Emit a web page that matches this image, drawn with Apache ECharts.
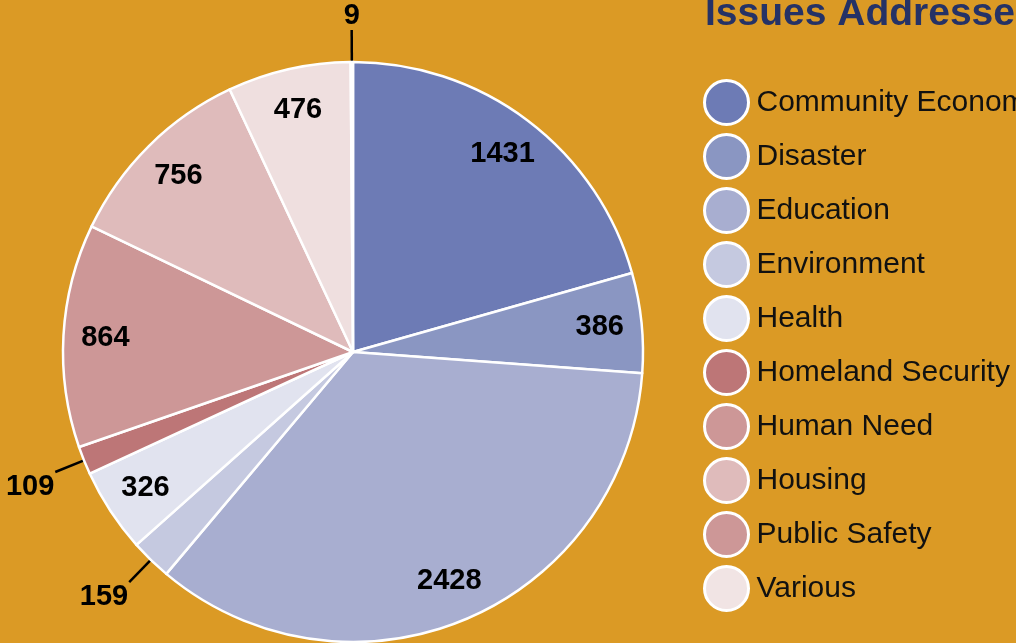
<!DOCTYPE html>
<html>
<head>
<meta charset="utf-8">
<script src="https://cdn.jsdelivr.net/npm/echarts@6/dist/echarts.min.js"></script>
<style>
  html, body { margin: 0; padding: 0; background: #db9a25; }
  #chart { width: 1016px; height: 643px; }
</style>
</head>
<body>
<div id="chart"></div>
<script>
const names = [
  "Community Economic Development",
  "Disaster",
  "Education",
  "Environment",
  "Health",
  "Homeland Security",
  "Human Need",
  "Housing",
  "Public Safety",
  "Various",
];
const values = [1431, 386, 2428, 159, 326, 109, 864, 756, 476, 9];
const sliceColors = [
  "#6d7bb5", "#8a96c2", "#a8aed0", "#c5c9e0", "#e1e3ef",
  "#bd7677", "#cd9797", "#dfbbbb", "#efdfdf", "#f7f1f1",
];
const legendColors = [
  "#6d7bb5", "#8a96c2", "#a8aed0", "#c5c9e0", "#e1e3ef",
  "#bd7677", "#cd9797", "#dfbbbb", "#cd9797", "#f1e4e4",
];

const font = "Liberation Sans";
const small = 200; // values under this get an outside label
const cx = 353, cy = 352;

const chart = echarts.init(document.getElementById("chart"));

const sliceData = names.map((n, i) => ({
  name: n,
  value: values[i],
  itemStyle: { color: sliceColors[i] },
  label: { show: values[i] < small },
  labelLine: { show: values[i] < small },
}));

const labelData = names.map((n, i) => ({
  name: n,
  value: values[i],
  label: { show: values[i] >= small },
}));

chart.setOption({
  backgroundColor: "#db9a25",
  animation: false,
  title: {
    text: "Issues Addressed",
    left: 700,
    top: -10,
    textStyle: {
      fontFamily: font,
      fontWeight: "bold",
      fontSize: 39,
      color: "#253266",
    },
  },
  legend: {
    orient: "vertical",
    left: 698,
    top: 74,
    icon: "circle",
    itemWidth: 44,
    itemHeight: 44,
    itemGap: 7,
    selectedMode: false,
    itemStyle: { borderColor: "#ffffff", borderWidth: 3 },
    textStyle: { fontFamily: font, fontSize: 30, color: "#111111", padding: [0, 0, 0, 3] },
    data: names.map((n, i) => ({ name: n, itemStyle: { color: legendColors[i] } })),
  },
  series: [
    {
      type: "pie",
      center: [cx, cy],
      radius: [0, 290],
      startAngle: 90,
      clockwise: true,
      avoidLabelOverlap: false,
      emphasis: { disabled: true },
      itemStyle: { borderColor: "#ffffff", borderWidth: 2.5 },
      label: {
        position: "outside",
        formatter: "{c}",
        fontFamily: font,
        fontWeight: "bold",
        fontSize: 29,
        color: "#000000",
        distanceToLabelLine: 4,
      },
      labelLine: {
        length: 31,
        length2: 0,
        lineStyle: { color: "#000000", width: 2.5 },
      },
      labelLayout: (p) => {
        const pts = p.labelLinePoints;
        if (!pts) return {};
        const end = pts[pts.length - 1];
        if (end[1] < cy - 200) {
          // label near the top: sit centred above the leader line
          return { x: end[0], y: end[1] - 1, align: "center", verticalAlign: "bottom" };
        }
        return { dy: 15, dx: 3 };
      },
      data: sliceData,
    },
    {
      type: "pie",
      center: [cx, cy],
      radius: [200, 290],
      startAngle: 90,
      clockwise: true,
      silent: true,
      emphasis: { disabled: true },
      itemStyle: { color: "rgba(0,0,0,0)", borderWidth: 0 },
      label: {
        position: "inside",
        formatter: "{c}",
        fontFamily: font,
        fontWeight: "bold",
        fontSize: 29,
        color: "#000000",
      },
      labelLine: { show: false },
      data: labelData,
    },
  ],
});
</script>
</body>
</html>
